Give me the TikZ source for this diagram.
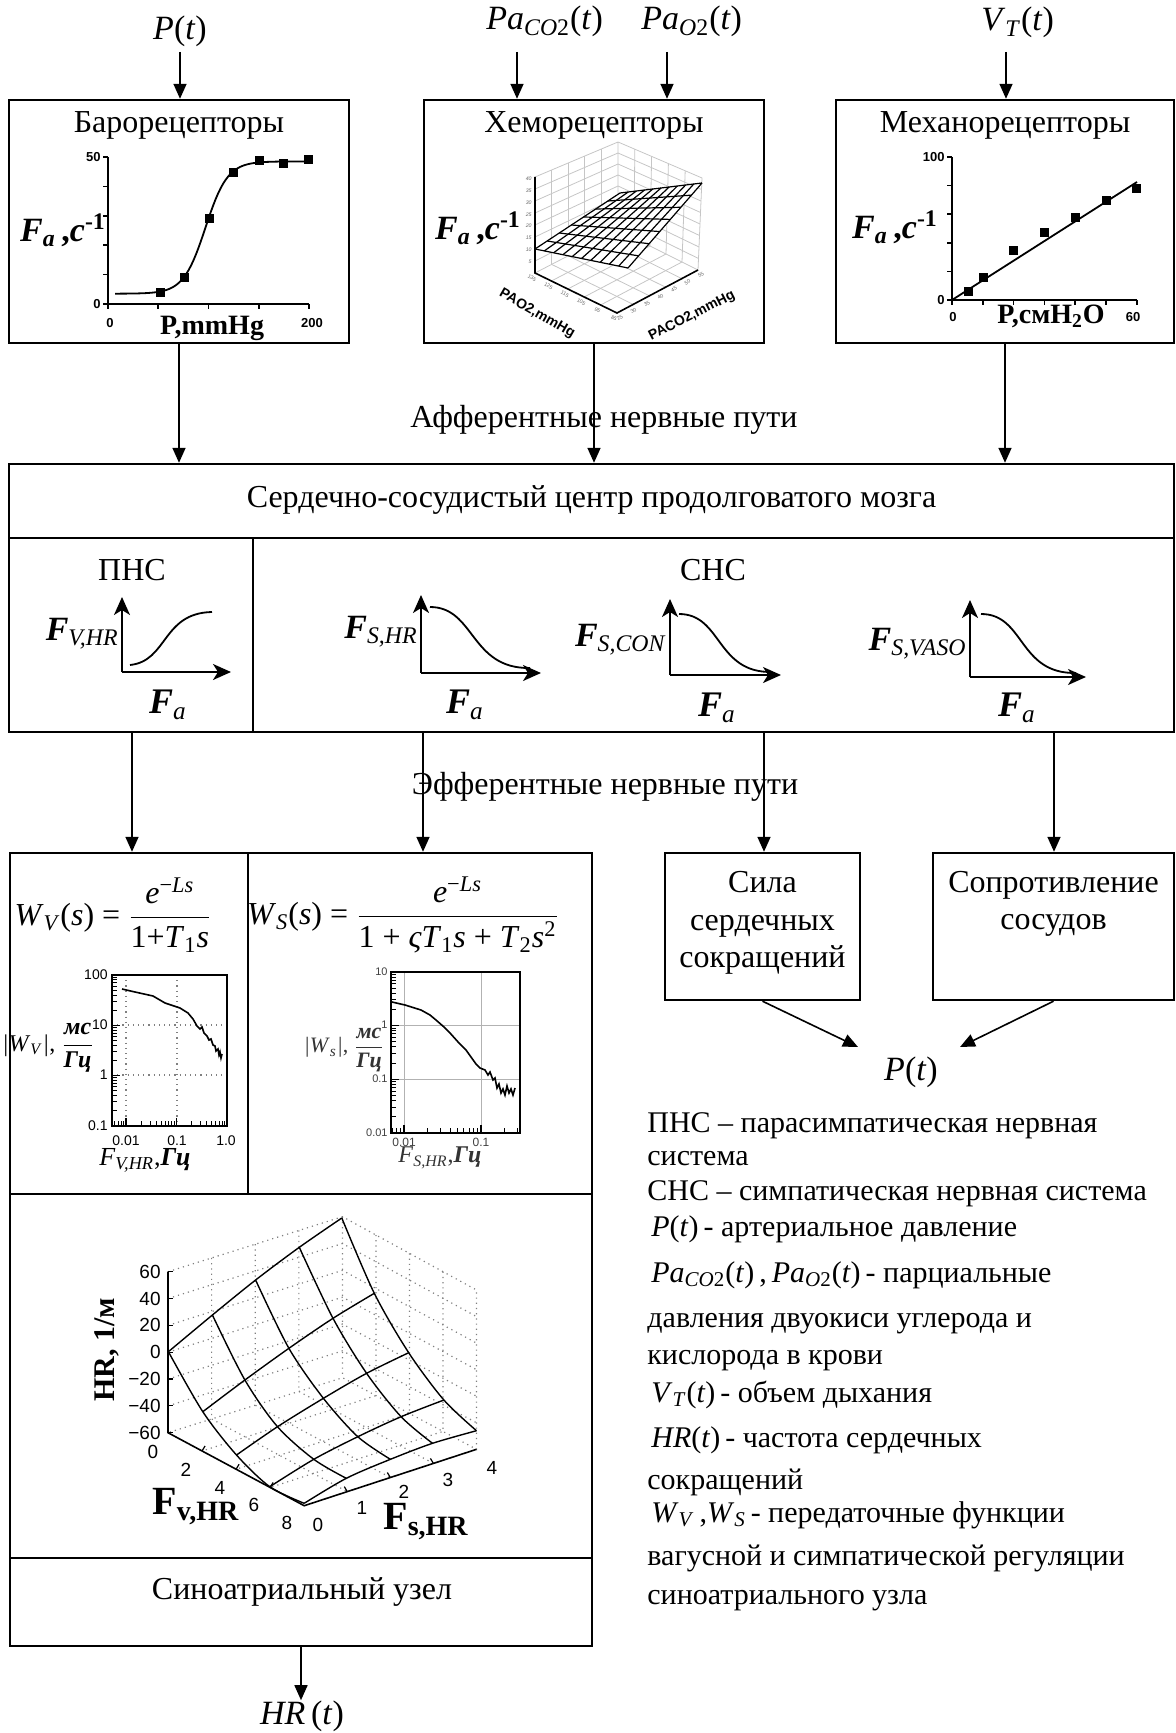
\RequirePackage{fix-cm}
\documentclass[tikz,border=0pt]{standalone}
\usepackage{amsmath}
\usepackage{fontspec}
\setmainfont{Liberation Serif}
\setsansfont{Liberation Sans}
\usetikzlibrary{arrows.meta,calc}
\newcommand\ti[1]{\textit{#1}}
\newcommand\bi[1]{\textbf{\textit{#1}}}
\newcommand\fsz[1]{\fontsize{#1}{#1}\selectfont}
\newcommand\Pt{\textit{P}(\textit{t})}
\newcommand\Fa{\textbf{\textit{F}\textsubscript{\textit{a}}\,,\textit{c}\textsuperscript{-1}}}
\begin{document}
\begin{tikzpicture}[x=0.5pt,y=-0.5pt,
  bx/.style={draw, line width=1.2pt, inner sep=0pt},
  arr/.style={line width=0.8pt, -{Triangle[length=7.5pt,width=6.5pt]}},
  sarr/.style={line width=1pt, -{Stealth[length=9pt,width=8pt,inset=2.5pt]}},
  txt/.style={font=\fsz{16}, inner sep=0pt},
  leg/.style={font=\fsz{15}, anchor=base west, inner sep=0pt},
  tlab/.style={font=\sffamily\fsz{7}, inner sep=1pt},
  blab/.style={font=\sffamily\bfseries\fsz{6.5}, inner sep=1pt},
  hlab/.style={font=\sffamily\fsz{9.5}, inner sep=0pt},
  clab/.style={font=\sffamily\fsz{2.6}, inner sep=0pt, gray!80!black},
  ax/.style={line width=0.8pt},
  grd/.style={gray, dotted, line width=0.6pt},
  crv/.style={line width=0.9pt},
  lite/.style={gray!45, line width=0.4pt},
]
\useasboundingbox (0,0) rectangle (1176,1733);

% ---------------- boxes ----------------
\node[bx, minimum width=170pt, minimum height=121.5pt] (baro) at (179,221.5) {};
\node[bx, minimum width=170pt, minimum height=121.5pt] (chemo) at (594,221.5) {};
\node[bx, minimum width=169pt, minimum height=121.5pt] (mech) at (1005,221.5) {};
\node[bx, minimum width=582.5pt, minimum height=37pt] (cvc) at (591.5,501) {};
\node[bx, minimum width=122pt, minimum height=97pt] (pns) at (131,635) {};
\node[bx, minimum width=460.5pt, minimum height=97pt] (sns) at (713.5,635) {};
\node[bx, minimum width=119pt, minimum height=170.5pt] (wv) at (129,1023.5) {};
\node[bx, minimum width=172pt, minimum height=170.5pt] (ws) at (420,1023.5) {};
\node[bx, minimum width=291pt, minimum height=182pt] (hr3) at (301,1376) {};
\node[bx, minimum width=291pt, minimum height=44pt] (sa) at (301,1602) {};
\node[bx, minimum width=97.5pt, minimum height=73.5pt] (sila) at (762.5,926.5) {};
\node[bx, minimum width=120.5pt, minimum height=73.5pt] (sopr) at (1053.5,926.5) {};

% ---------------- inputs ----------------
\node[font=\fsz{17}, anchor=base, inner sep=0pt] (lP) at (180,40) {\Pt};
\node[font=\fsz{17}, anchor=base west, inner sep=0pt] (lCO) at (486,30) {\ti{Pa}\textsubscript{\ti{CO}2}(\ti{t})};
\node[font=\fsz{17}, anchor=base west, inner sep=0pt] (lO) at (641,30) {\ti{Pa}\textsubscript{\ti{O}2}(\ti{t})};
\node[font=\fsz{17}, anchor=base west, inner sep=0pt] (lV) at (981,31) {\ti{V}\textsubscript{\ti{T}}(\ti{t})};
\coordinate (aP) at (180,52); \coordinate (aC) at (517,52);
\coordinate (aO) at (667,52); \coordinate (aV) at (1006,52);
\draw[arr] (aP) -- (aP |- baro.north);
\draw[arr] (aC) -- (aC |- chemo.north);
\draw[arr] (aO) -- (aO |- chemo.north);
\draw[arr] (aV) -- (aV |- mech.north);

\node[txt] (tB) at (179,125) {Барорецепторы};
\node[txt] (tC) at (594,125) {Хеморецепторы};
\node[txt] (tM) at (1005,125) {Механорецепторы};

% ---------------- baroreceptor plot ----------------
\draw[ax] (108,157) -- (108,304) -- (309,304);
\foreach \k in {0,...,5} \draw[ax] (108,304-\k*29.4) -- ++(-5,0);
\foreach \k in {0,...,4} \draw[ax] (108+\k*50.25,304) -- ++(0,5);
\draw[crv] plot[domain=7:200, samples=80] ({108+1.005*\x}, {304-2.94*(3.5+45/(1+exp(-(\x-97)/11)))});
\foreach \x/\y in {160/293,184/278,209/219,233/173,259/161,283/164,308/160}
  \fill (\x-4.5,\y-4.5) rectangle ++(9,9);
\node[blab, anchor=east] (b50) at (103,157) {50};
\node[blab, anchor=east] (b0) at (103,304) {0};
\node[blab] (bx0) at (110,323) {0};
\node[blab] (bx200) at (312,323) {200};
\node[font=\bfseries\fsz{14}, inner sep=0pt] (bxl) at (212,328) {P,mmHg};
\node[font=\fsz{17}, inner sep=0pt] (bfa) at (63,230) {\Fa};

% ---------------- chemoreceptor plot ----------------
\coordinate (cL) at (535,273); \coordinate (cF) at (617,313);
\coordinate (cR) at (698,270); \coordinate (cK) at (618,230);
\coordinate (cLt) at (535,177); \coordinate (cKt) at (618,142); \coordinate (cRt) at (702,178);
\foreach \i in {1,...,7} \draw[lite] ($(cL)!{\i/8}!(cLt)$) -- ($(cK)!{\i/8}!(cKt)$) -- ($(cR)!{\i/8}!(cRt)$);
\foreach \i in {1,...,4} {
  \draw[lite] ($(cL)!{\i/5}!(cK)$) -- ($(cLt)!{\i/5}!(cKt)$);
  \draw[lite] ($(cK)!{\i/5}!(cR)$) -- ($(cKt)!{\i/5}!(cRt)$);
  \draw[lite] ($(cL)!{\i/5}!(cK)$) -- ($(cF)!{\i/5}!(cR)$);
  \draw[lite] ($(cL)!{\i/5}!(cF)$) -- ($(cK)!{\i/5}!(cR)$);
}
\draw[lite] (cLt) -- (cKt) -- (cRt) -- (cR) (cK) -- (cKt) (cL) -- (cK) -- (cR);
\draw[line width=0.8pt] (cLt) -- (cL) -- (cF) -- (cR);
\coordinate (sL) at (535,249); \coordinate (sF) at (628,268);
\coordinate (sR) at (702,183); \coordinate (sB) at (620,193);
\fill[white] (sL) -- (sF) -- (sR) -- (sB) -- cycle;
\foreach \i in {0,...,10} \draw[line width=0.6pt] ($(sL)!{\i/10}!(sF)$) -- ($(sB)!{\i/10}!(sR)$);
\foreach \i in {0,...,7} \draw[line width=0.6pt] ($(sL)!{\i/7}!(sB)$) -- ($(sF)!{\i/7}!(sR)$);
\foreach \v [count=\i from 0] in {40,35,30,25,20,15,10,5}
  \node[clab, anchor=east] (cz\i) at (532,179+\i*11.8) {\ti{\v}};
\foreach \v [count=\i from 0] in {135,125,115,105,95,85}
  \node[clab, rotate=-30] (ca\i) at ($(cL)!{\i/5}!(cF)+(-3,5)$) {\v};
\foreach \v [count=\i from 0] in {25,30,35,40,45,50,55}
  \node[clab, rotate=30] (cb\i) at ($(cF)!{\i/6}!(cR)+(3,5)$) {\v};
\node[font=\sffamily\bfseries\fsz{7}, rotate=-30, inner sep=0pt] (cxl) at (537,314) {PAO2,mmHg};
\node[font=\sffamily\bfseries\fsz{7}, rotate=27, inner sep=0pt] (cyl) at (692,316) {PACO2,mmHg};
\node[font=\fsz{17}, inner sep=0pt] (cfa) at (478,228) {\Fa};

% ---------------- mechanoreceptor plot ----------------
\draw[ax] (952,157) -- (952,300) -- (1137,300);
\foreach \k in {0,...,5} \draw[ax] (952,300-\k*28.6) -- ++(-5,0);
\foreach \k in {0,...,6} \draw[ax] (952+\k*30.8,300) -- ++(0,5);
\draw[crv] (952,300) -- (1137,182);
\foreach \x/\y in {968/292,983/278,1013/251,1044/233,1075/218,1106/201,1136/189}
  \fill (\x-4.5,\y-4.5) rectangle ++(9,9);
\node[blab, anchor=east] (m100) at (947,157) {100};
\node[blab, anchor=east] (m0) at (947,300) {0};
\node[blab] (mx0) at (953,317) {0};
\node[blab] (mx60) at (1133,317) {60};
\node[font=\bfseries\fsz{14}, inner sep=0pt] (mxl) at (1051,316) {P,смH\textsubscript{2}O};
\node[font=\fsz{17}, inner sep=0pt] (mfa) at (895,227) {\Fa};

% ---------------- afferent ----------------
\draw[arr] (baro.south) -- (baro.south |- cvc.north);
\draw[arr] (chemo.south) -- (chemo.south |- cvc.north);
\draw[arr] (mech.south) -- (mech.south |- cvc.north);
\node[txt] (aff) at (604,420) {Афферентные нервные пути};
\node[txt] (tcvc) at (591.5,500) {Сердечно-сосудистый центр продолговатого мозга};

% ---------------- PNS / SNS ----------------
\node[txt] (tpns) at (132,570) {ПНС};
\node[txt] (tsns) at (713,570) {СНС};
\draw[sarr] (122,672) -- (231,672);
\draw[sarr] (122,672) -- (122,597);
\draw[crv] (130,665) .. controls (168,661) and (162,613) .. (212,612);
\draw[sarr] (421,673) -- (541,673);
\draw[sarr] (421,673) -- (421,595);
\draw[crv] (430,607) .. controls (475,607) and (470,669) .. (530,668);
\draw[sarr] (670,675) -- (781,675);
\draw[sarr] (670,675) -- (670,599);
\draw[crv] (679,614) .. controls (722,614) and (716,673) .. (772,672);
\draw[sarr] (970,677) -- (1086,677);
\draw[sarr] (970,677) -- (970,600);
\draw[crv] (981,614) .. controls (1025,614) and (1018,674) .. (1076,673);
\node[font=\fsz{17}, anchor=east, inner sep=1pt] (lf1) at (121,634) {\bi{F}\textsubscript{\ti{V,HR}}};
\node[font=\fsz{17}, anchor=east, inner sep=1pt] (lf2) at (420,632) {\bi{F}\textsubscript{\ti{S,HR}}};
\node[font=\fsz{17}, anchor=east, inner sep=1pt] (lf3) at (669,640) {\bi{F}\textsubscript{\ti{S,CON}}};
\node[font=\fsz{17}, anchor=east, inner sep=1pt] (lf4) at (969,644) {\bi{F}\textsubscript{\ti{S,VASO}}};
\node[font=\fsz{18}, inner sep=0pt] (la1) at (168,705) {\bi{F}\textsubscript{\ti{a}}};
\node[font=\fsz{18}, inner sep=0pt] (la2) at (465,705) {\bi{F}\textsubscript{\ti{a}}};
\node[font=\fsz{18}, inner sep=0pt] (la3) at (717,708) {\bi{F}\textsubscript{\ti{a}}};
\node[font=\fsz{18}, inner sep=0pt] (la4) at (1017,708) {\bi{F}\textsubscript{\ti{a}}};

% ---------------- efferent ----------------
\coordinate (e1) at (132,732); \coordinate (e2) at (423,732);
\coordinate (e3) at (764,732); \coordinate (e4) at (1054,732);
\draw[arr] (e1) -- (e1 |- wv.north);
\draw[arr] (e2) -- (e2 |- ws.north);
\draw[arr] (e3) -- (e3 |- sila.north);
\draw[arr] (e4) -- (e4 |- sopr.north);
\node[txt] (eff) at (605,787) {Эфферентные нервные пути};

% ---------------- W_V ----------------
\node[font=\fsz{16}, inner sep=0pt] (fwv) at (113,915) {\ti{W}\textsubscript{\ti{V}}(\ti{s}) = $\dfrac{\text{\ti{e}\textsuperscript{−\ti{Ls}}}}{\text{1+\ti{T}\textsubscript{1}\ti{s}}}$};
\draw[grd] (126,975) -- (126,1126) (177,975) -- (177,1126) (112,1025) -- (227,1025) (112,1075) -- (227,1075);
\foreach \d in {0,1,2} \foreach \k in {2,...,9} \draw[line width=0.5pt] (112,{1126-(\d+log10(\k))*50.33}) -- ++(5,0);
\foreach \d in {0,1,2,3} \draw[line width=0.6pt] (112,{1126-\d*50.33}) -- ++(8,0);
\foreach \d/\s in {-1/6,0/2,1/2} \foreach \k in {\s,...,9} \draw[line width=0.5pt] ({126+(\d+log10(\k))*50.5},1126) -- ++(0,-5);
\foreach \d in {0,1} \draw[line width=0.6pt] ({126+\d*50.5},1126) -- ++(0,-8);
\draw[line width=0.8pt] (112,975) rectangle (227,1126);
\draw[line width=0.8pt] plot coordinates {(122,989) (135,992) (153,996) (165,1003) (180,1008) (188,1013) (193,1019) (197,1026) (200,1029) (202,1027) (204,1033) (207,1036) (209,1040) (211,1039) (213,1045) (215,1046) (216,1051) (218,1049) (219,1055) (220,1052) (221,1058) (222,1054)};
\foreach \v/\y [count=\i] in {100/975,10/1025,1/1075,0.1/1126} \node[tlab, anchor=east] (wvy\i) at (110,\y) {\v};
\foreach \v/\x [count=\i] in {0.01/126,0.1/177,1.0/226} \node[tlab] (wvx\i) at (\x,1141) {\v};
\node[font=\fsz{12}, inner sep=0pt] (wvyl) at (48,1048) {\ti{|W}\textsubscript{\ti{V}}\ti{|}, $\dfrac{\text{\bi{мс}}}{\text{\bi{Гц}}}$};
\node[font=\fsz{13}, inner sep=0pt] (wvxl) at (145,1160) {\ti{F}\textsubscript{\ti{V,HR}},\bi{Гц}};

% ---------------- W_S ----------------
\node[font=\fsz{16}, inner sep=0pt] (fws) at (403,915) {\ti{W}\textsubscript{\ti{S}}(\ti{s}) = $\dfrac{\text{\ti{e}\textsuperscript{−\ti{Ls}}}}{\text{1 + \ti{ςT}\textsubscript{1}\ti{s} + \ti{T}\textsubscript{2}\ti{s}\textsuperscript{2}}}$};
\draw[gray!60, line width=0.5pt] (404,972) -- (404,1133) (481,972) -- (481,1133) (391,1025) -- (520,1025) (391,1079) -- (520,1079);
\foreach \d in {0,1,2} \foreach \k in {2,...,9} \draw[line width=0.5pt] (391,{1133-(\d+log10(\k))*53.7}) -- ++(5,0);
\foreach \d in {0,1,2,3} \draw[line width=0.6pt] (391,{1133-\d*53.7}) -- ++(8,0);
\foreach \d/\s/\e in {-1/7/9,0/2/9,1/2/3} \foreach \k in {\s,...,\e} \draw[line width=0.5pt] ({404+(\d+log10(\k))*77},1133) -- ++(0,-5);
\foreach \d in {0,1} \draw[line width=0.6pt] ({404+\d*77},1133) -- ++(0,-8);
\draw[line width=1pt] (391,972) rectangle (520,1133);
\draw[line width=0.8pt] plot coordinates {(392,1002) (405,1005) (421,1010) (430,1015) (436,1020) (444,1027) (450,1033) (459,1043) (466,1050) (471,1057) (476,1064) (480,1068) (485,1070) (488,1075) (490,1072) (493,1080) (495,1078) (497,1088) (499,1084) (501,1093) (503,1089) (505,1095) (507,1086) (509,1093) (511,1089) (513,1095) (515,1088)};
\foreach \v/\y [count=\i] in {10/972,1/1025,0.1/1079,0.01/1133} \node[tlab, font=\sffamily\fsz{5.5}, anchor=east, black!75] (wsy\i) at (390,\y) {\v};
\foreach \v/\x [count=\i] in {0.01/404,0.1/481} \node[tlab, font=\sffamily\fsz{6}, black!75] (wsx\i) at (\x,1142) {\v};
\node[font=\fsz{11}, inner sep=0pt, black!80] (wsyl) at (344,1050) {\ti{|W}\textsubscript{\ti{s}}\ti{|}, $\dfrac{\text{\bi{мс}}}{\text{\bi{Гц}}}$};
\node[font=\fsz{12}, inner sep=0pt, black!80] (wsxl) at (440,1158) {\ti{F}\textsubscript{\ti{S,HR}},\bi{Гц}};

% ---------------- 3D HR surface ----------------
\coordinate (A) at (168,1271.7); \coordinate (B) at (342.5,1216.7);
\coordinate (C) at (342.5,1377.7); \coordinate (D) at (168,1432.7);
\coordinate (E) at (476.5,1290); \coordinate (F) at (476.5,1449.3);
\coordinate (G) at (304.2,1505.7);
\draw[grd] (A) -- (B) -- (E) -- (F) -- (C) -- (D) (B) -- (C);
\foreach \k in {1,...,5} \draw[grd] ($(A)!{\k/6}!(D)$) -- ($(B)!{\k/6}!(C)$) -- ($(E)!{\k/6}!(F)$);
\foreach \k in {1,...,3} {
  \draw[grd] ($(A)!{\k/4}!(B)$) -- ($(D)!{\k/4}!(C)$) -- ($(G)!{\k/4}!(F)$);
  \draw[grd] ($(B)!{\k/4}!(E)$) -- ($(C)!{\k/4}!(F)$) -- ($(D)!{\k/4}!(G)$);
}
\draw[line width=0.8pt] (A) -- (D) -- (G) -- (F);
\foreach \k in {0,...,6} \draw[line width=0.6pt] ($(A)!{\k/6}!(D)$) -- ++(5,0);
\foreach \k in {1,...,3} {
  \draw[line width=0.6pt] ($(D)!{\k/4}!(G)$) -- ++(3,-5);
  \draw[line width=0.6pt] ($(G)!{\k/4}!(F)$) -- ++(-3,-5);
}
\coordinate (m00) at (168.4,1351.7); \coordinate (m10) at (212.4,1315); \coordinate (m20) at (255.6,1280); \coordinate (m30) at (299.3,1247.3); \coordinate (m40) at (341.8,1218);
\coordinate (m01) at (202.8,1411.7); \coordinate (m11) at (244.9,1380); \coordinate (m21) at (288.9,1348.3); \coordinate (m31) at (333,1318.3); \coordinate (m41) at (374.3,1293.3);
\coordinate (m02) at (236.5,1455); \coordinate (m12) at (277.5,1426.7); \coordinate (m22) at (323.4,1398.3); \coordinate (m32) at (366.6,1373.3); \coordinate (m42) at (408.7,1352.7);
\coordinate (m03) at (269.8,1486.7); \coordinate (m13) at (313.8,1459.3); \coordinate (m23) at (357.8,1436.7); \coordinate (m33) at (401.1,1416.7); \coordinate (m43) at (443.9,1400);
\coordinate (m04) at (304.2,1503.3); \coordinate (m14) at (346.3,1478.3); \coordinate (m24) at (390.4,1459.3); \coordinate (m34) at (432.5,1443.3); \coordinate (m44) at (476.5,1430.7);
\foreach \j in {0,...,4} \draw[line width=0.7pt] plot[smooth] coordinates {(m0\j) (m1\j) (m2\j) (m3\j) (m4\j)};
\foreach \i in {0,...,4} \draw[line width=0.7pt] plot[smooth] coordinates {(m\i0) (m\i1) (m\i2) (m\i3) (m\i4)};
\foreach \v/\y [count=\i] in {60/1272,40/1299,20/1325,0/1352,−20/1379,−40/1406,−60/1433}
  \node[hlab, anchor=east] (hz\i) at (161,\y) {\v};
\foreach \v/\x/\y [count=\i] in {0/153/1452,2/186/1470,4/220/1488,6/254/1505,8/287/1523}
  \node[hlab] (hv\i) at (\x,\y) {\v};
\foreach \v/\x/\y [count=\i] in {0/318/1525,1/362/1508,2/404/1492,3/448/1480,4/492/1468}
  \node[hlab] (hs\i) at (\x,\y) {\v};
\node[font=\bfseries\fsz{15}, rotate=90, inner sep=0pt] (hzl) at (107,1350) {HR, 1/м};
\node[font=\bfseries\fsz{20}, inner sep=0pt] (hvl) at (196,1507) {F\textsubscript{v,HR}};
\node[font=\bfseries\fsz{20}, inner sep=0pt] (hsl) at (426,1522) {F\textsubscript{s,HR}};

% ---------------- SA node ----------------
\node[txt] (tsa) at (302,1592) {Синоатриальный узел};
\node[font=\fsz{17}, inner sep=0pt] (tHR) at (302,1716) {\ti{HR}\,(\ti{t})};
\draw[arr] (sa.south) -- (sa.south |- tHR.north);

% ---------------- right side ----------------
\node[align=center, inner sep=0pt, font=\fontsize{16}{18.75}\selectfont] (tsila) at (762.5,923) {Сила\\сердечных\\сокращений};
\node[align=center, inner sep=0pt, font=\fontsize{16}{18.75}\selectfont] (tsopr) at (1053.5,904) {Сопротивление\\сосудов};
\node[font=\fsz{17}, inner sep=0pt] (tP2) at (911,1072) {\Pt};
\coordinate (p1) at (858,1047); \coordinate (p2) at (960,1047);
\draw[arr] (sila.south) -- (p1);
\draw[arr] (sopr.south) -- (p2);

% ---------------- legend ----------------
\node[leg] (g1) at (647,1132) {ПНС – парасимпатическая нервная};
\node[leg] (g2) at (647,1165) {система};
\node[leg] (g3) at (647,1200) {СНС – симпатическая нервная система};
\node[leg] (g4) at (651,1236) {\Pt\,- артериальное давление};
\node[leg] (g5) at (651,1282) {\ti{Pa}\textsubscript{\ti{CO}2}(\ti{t})\,,\,\ti{Pa}\textsubscript{\ti{O}2}(\ti{t})\,- парциальные};
\node[leg] (g6) at (647,1327) {давления двуокиси углерода и};
\node[leg] (g7) at (647,1364) {кислорода в крови};
\node[leg] (g8) at (651,1402) {\ti{V}\textsubscript{\ti{T}}(\ti{t})\,- объем дыхания};
\node[leg] (g9) at (651,1447) {\ti{HR}(\ti{t})\,- частота сердечных};
\node[leg] (g10) at (647,1489) {сокращений};
\node[leg] (g11) at (651,1522) {\ti{W}\textsubscript{\ti{V}}\,,\ti{W}\textsubscript{\ti{S}}\,- передаточные функции};
\node[leg] (g12) at (647,1565) {вагусной и симпатической регуляции};
\node[leg] (g13) at (647,1604) {синоатриального узла};
\end{tikzpicture}
\end{document}
